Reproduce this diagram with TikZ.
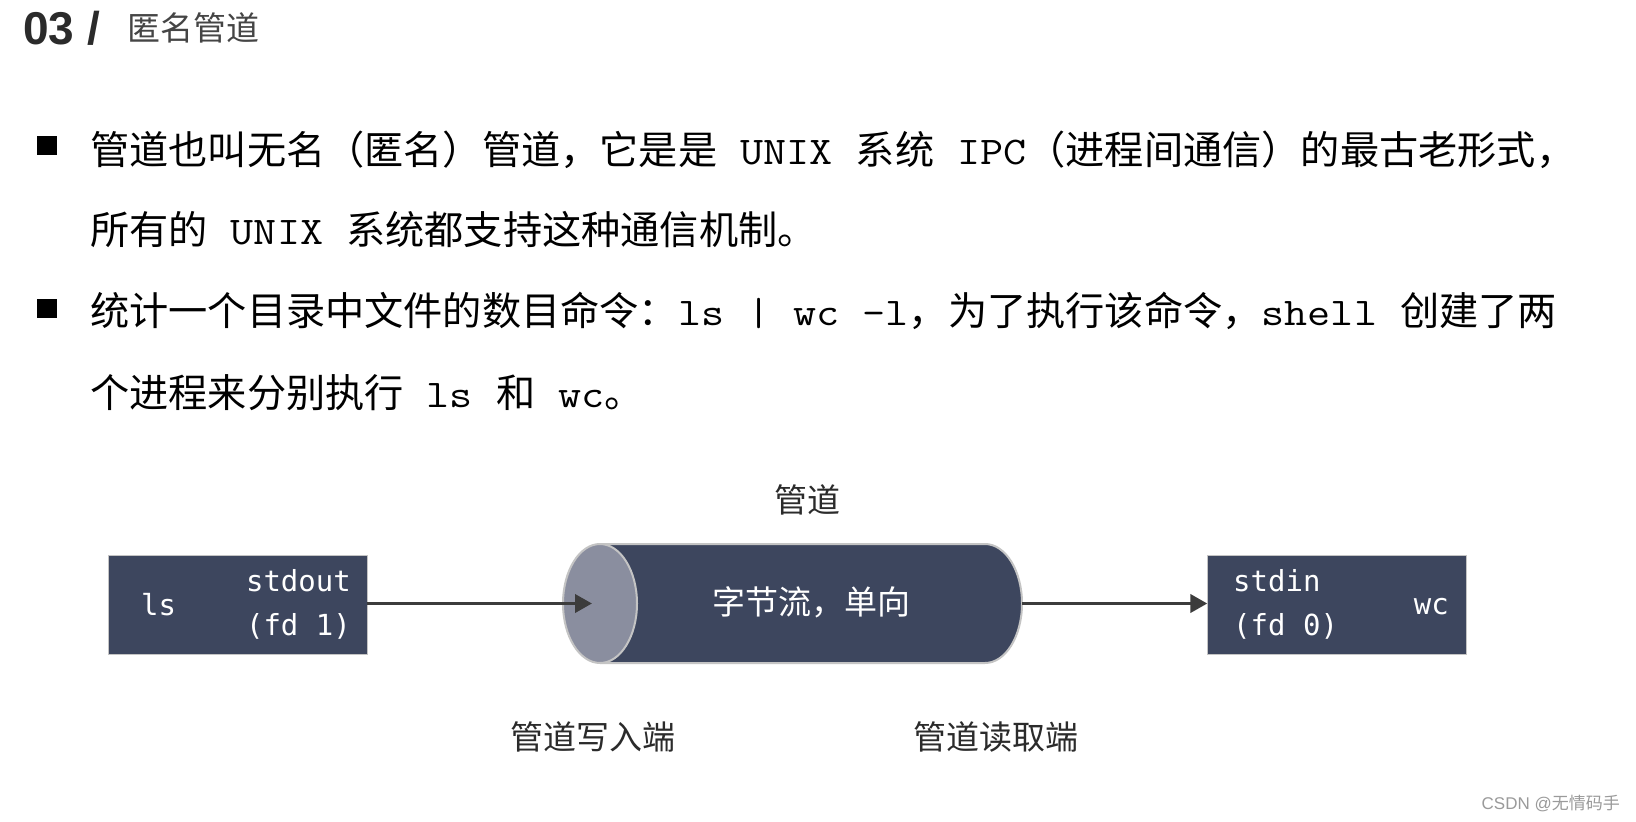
\documentclass[tikz,border=0pt]{standalone}
\usepackage{fontspec}
\setmainfont{Noto Sans CJK SC}
\newfontfamily\cjk{Noto Sans CJK SC}
\newfontfamily\monot[FakeStretch=1.143]{Latin Modern Mono}
\newfontfamily\boxfont{DejaVu Sans Mono}
\newfontfamily\latinsans{Liberation Sans}
\usetikzlibrary{arrows.meta}
\definecolor{boxc}{HTML}{3D465E}
\definecolor{facec}{HTML}{8A8E9F}
\definecolor{rimc}{HTML}{C4C4C4}
\definecolor{arrc}{HTML}{3C3C3C}
\definecolor{titlec}{HTML}{2B2B2B}
\definecolor{subc}{HTML}{454545}
\definecolor{wmc}{HTML}{9A9A9A}
\tikzset{
  bodytext/.style={anchor=base west, inner sep=0pt, text=black, font=\cjk\fontsize{39.2}{40}\selectfont},
  bulletsq/.style={fill=black, draw=none, minimum width=20pt, minimum height=19pt, inner sep=0pt},
  procbox/.style={fill=boxc, draw=rimc, line width=0.8pt, minimum width=258.5pt, minimum height=99pt, inner sep=0pt},
  boxtxt/.style={inner sep=0pt, text=white, font=\boxfont\fontsize{29}{30}\selectfont},
  pipetxt/.style={inner sep=0pt, text=white, font=\cjk\fontsize{33}{34}\selectfont},
  labeltxt/.style={inner sep=0pt, text=titlec, font=\cjk\fontsize{33}{34}\selectfont},
  flow/.style={draw=arrc, line width=3.8pt, -{Triangle[length=17pt, width=18pt]}},
}
\begin{document}
\begin{tikzpicture}[x=1pt, y=-1pt]
\useasboundingbox (0,0) rectangle (1636,822);
\fill[white] (0,0) rectangle (1636,822);

% title
\node[anchor=base west, inner sep=0pt, text=titlec, font=\latinsans\bfseries\fontsize{46}{46}\selectfont] (num) at (23,44) {03 /};
\node[anchor=base west, inner sep=0pt, text=subc, font=\cjk\fontsize{33}{34}\selectfont] (sub) at (127,40) {匿名管道};

% bullets
\node[bulletsq] (b1) at (47,145) {};
\node[bulletsq] (b2) at (47,308.5) {};
\node[bodytext] (l1) at (90,164) {管道也叫无名（匿名）管道，它是是{\monot\ UNIX\ }系统{\monot\ IPC}（进程间通信）的最古老形式，};
\node[bodytext] (l2) at (90,244) {所有的{\monot\ UNIX\ }系统都支持这种通信机制。};
\node[bodytext] (l3) at (90,325) {统计一个目录中文件的数目命令：{\monot ls | wc -l}，为了执行该命令，{\monot shell\ }创建了两};
\node[bodytext] (l4) at (90,407) {个进程来分别执行{\monot\ ls\ }和{\monot\ wc}。};

% pipe heading
\node[labeltxt] (pipehead) at (807.5,500) {管道};

% left process box
\node[procbox] (lsbox) at (237.75,604.5) {};
\node[boxtxt, anchor=base west] (lsname) at (141,615.5) {ls};
\node[boxtxt, anchor=base east] (lsout) at (351,591.5) {stdout};
\node[boxtxt, anchor=base east] (lsfd) at (351,635) {(fd 1)};

% right process box
\node[procbox] (wcbox) at (1337,604.5) {};
\node[boxtxt, anchor=base west] (wcin) at (1233,591.5) {stdin};
\node[boxtxt, anchor=base west] (wcfd) at (1233,635) {(fd 0)};
\node[boxtxt, anchor=base east] (wcname) at (1449,614.5) {wc};

% pipe cylinder
\node[minimum width=459pt, minimum height=119pt, inner sep=0pt] (pipe) at (792.5,603.5) {};
\fill[boxc] (600,544) -- (985,544) arc[start angle=-90, end angle=90, x radius=37, y radius=59.5] -- (600,663) -- cycle;
\draw[rimc, line width=2pt] (600,544) -- (985,544) arc[start angle=-90, end angle=90, x radius=37, y radius=59.5] -- (600,663);
\filldraw[fill=facec, draw=rimc, line width=2pt] (600,603.5) ellipse [x radius=37, y radius=59.5];
\coordinate (pipein) at (592,603.5);
\node[pipetxt] (pipelabel) at (811.5,602.5) {字节流，单向};

% connectors
\draw[flow] (lsbox.east |- pipein) -- (pipein);
\draw[flow] (pipe.east) -- (wcbox.west |- pipe.east);

% end labels
\node[labeltxt] (wend) at (592.5,736.5) {管道写入端};
\node[labeltxt] (rend) at (995.5,736.5) {管道读取端};

% watermark
\node[anchor=east, inner sep=0pt, text=wmc, font=\fontsize{17}{18}\selectfont] (wm) at (1620,804) {{\latinsans CSDN @}{\cjk 无情码手}};
\end{tikzpicture}
\end{document}
